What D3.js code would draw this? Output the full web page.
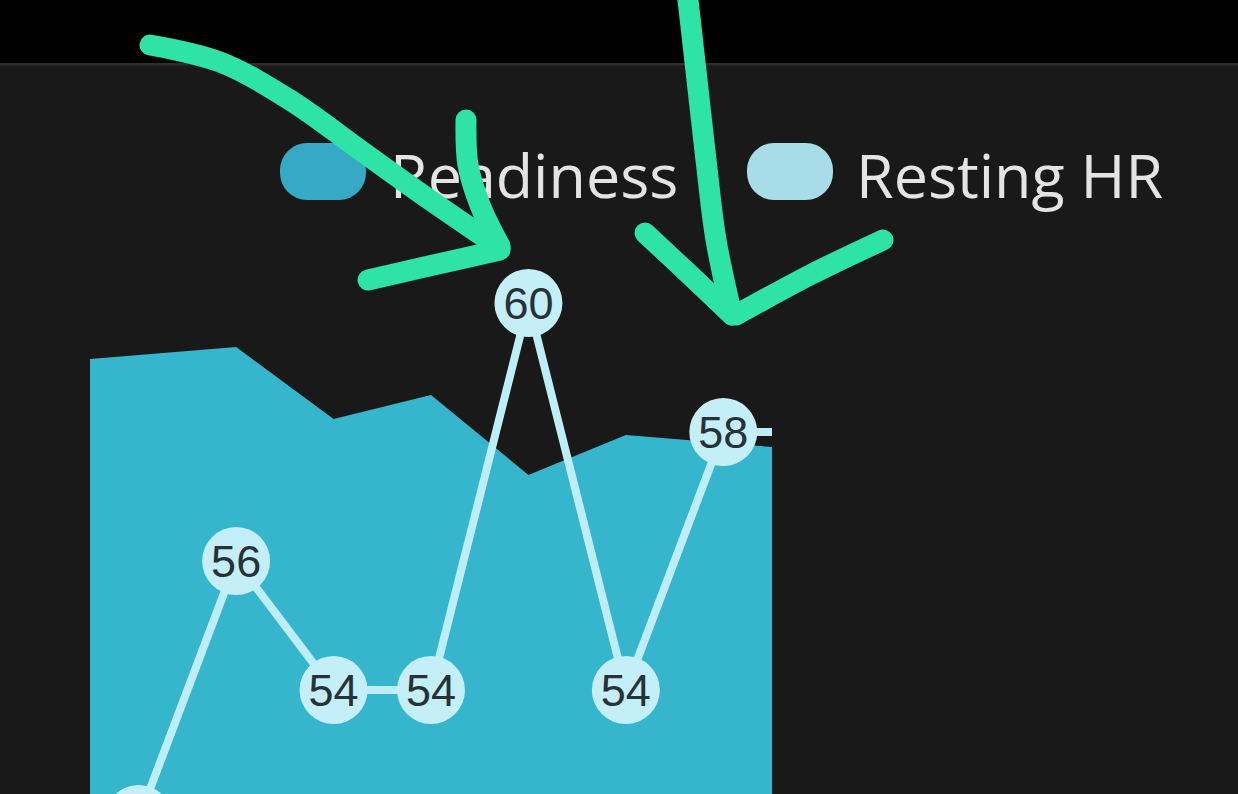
<!DOCTYPE html>
<html>
<head>
<meta charset="utf-8">
<script src="https://cdn.jsdelivr.net/npm/d3@7/dist/d3.min.js"></script>
<style>
  html, body { margin: 0; padding: 0; background: #191919; overflow: hidden; }
  svg { display: block; }
</style>
</head>
<body>
<svg id="chart" width="1238" height="794"></svg>
<script>
// ---- data ----
const days = ["D1", "D2", "D3", "D4", "D5", "D6", "D7"];
const readiness = [86, 87, 78, 81, 71, 76, 75];
const restingHR = [52, 56, 54, 54, 60, 54, 58];
const seriesNames = ["Readiness", "Resting HR"];
const seriesColors = ["#35a9c6", "#a8dde8"];

const W = 1238, H = 794;
const svg = d3.select("#chart");

// background bands
svg.append("rect").attr("x", 0).attr("y", 0).attr("width", W).attr("height", H).attr("fill", "#191919");
svg.append("rect").attr("x", 0).attr("y", 0).attr("width", W).attr("height", 63).attr("fill", "#000");
svg.append("rect").attr("x", 0).attr("y", 63).attr("width", W).attr("height", 2.5).attr("fill", "#2e2e2e");

const plot = { left: 90, right: 772, top: 240, bottom: 900 };

const x = d3.scalePoint().domain(days).range([plot.left, plot.right]).padding(0.5);
const yR = d3.scaleLinear().domain([0, 100]).range([1043, 243]);
const yHR = d3.scaleLinear().domain([52, 60]).range([819, 303]);

const clip = svg.append("defs").append("clipPath").attr("id", "plotclip");
clip.append("rect").attr("x", plot.left).attr("y", 0).attr("width", plot.right - plot.left).attr("height", H);

const g = svg.append("g").attr("clip-path", "url(#plotclip)");

// readiness area, extended linearly to the plot edges
const rPts = days.map((d, i) => [x(d), yR(readiness[i])]);
const n = rPts.length;
function extend(p0, p1, xe) {
  const s = (p1[1] - p0[1]) / (p1[0] - p0[0]);
  return [xe, p0[1] + s * (xe - p0[0])];
}
const areaPts = [extend(rPts[0], rPts[1], plot.left), ...rPts, extend(rPts[n - 2], rPts[n - 1], plot.right)];
const area = d3.area().x(d => d[0]).y0(plot.bottom).y1(d => d[1]);
g.append("path").datum(areaPts).attr("d", area).attr("fill", "#36b6cc");

// resting HR line, extended horizontally to the plot edges
const hPts = days.map((d, i) => [x(d), yHR(restingHR[i])]);
const linePts = [[plot.left, hPts[0][1]], ...hPts, [plot.right, hPts[n - 1][1]]];
g.append("path").datum(linePts)
  .attr("d", d3.line())
  .attr("fill", "none")
  .attr("stroke", "#bdeef8")
  .attr("stroke-width", 8);

const pts = g.selectAll("g.pt").data(days).join("g").attr("class", "pt")
  .attr("transform", (d, i) => `translate(${x(d)},${yHR(restingHR[i])})`);
pts.append("circle").attr("r", 34).attr("fill", "#c4eff8");
// labels only where the point's centre is inside the view (the first one sits below the frame)
pts.filter((d, i) => yHR(restingHR[i]) < H).append("text")
  .attr("text-anchor", "middle")
  .attr("dy", "0.36em")
  .attr("font-family", "'Liberation Sans', Arial, sans-serif")
  .attr("font-size", 45)
  .attr("fill", "#263238")
  .text(d => restingHR[days.indexOf(d)]);

// legend
const legend = [
  { name: seriesNames[0], color: seriesColors[0], px: 280, tx: 390 },
  { name: seriesNames[1], color: seriesColors[1], px: 747, tx: 856 }
];
const lg = svg.selectAll("g.lg").data(legend).join("g").attr("class", "lg");
lg.append("rect").attr("x", d => d.px).attr("y", 143).attr("width", 86).attr("height", 57)
  .attr("rx", 27).attr("fill", d => d.color);
lg.append("text").attr("x", d => d.tx).attr("y", 198)
  .attr("font-family", "'Open Sans', 'Noto Sans', sans-serif")
  .attr("font-size", 61)
  .attr("fill", "#e4e4e4")
  .text(d => d.name);

// hand-drawn annotation arrows
const ann = svg.append("g").attr("fill", "none").attr("stroke", "#2ee3a6")
  .attr("stroke-width", 21).attr("stroke-linecap", "round").attr("stroke-linejoin", "round");
const curve = d3.line().curve(d3.curveCatmullRom);
const strokes = [
  [[150, 45], [220, 62], [290, 100], [360, 150], [430, 200], [500, 248]],
  [[368, 280], [420, 268], [500, 250]],
  [[466, 120], [468, 165], [480, 205], [500, 246]],
  [[688, 0], [697, 80], [706, 160], [716, 240], [732, 315]],
  [[645, 233], [690, 275], [732, 315]],
  [[883, 240], [810, 275], [736, 315]]
];
strokes.forEach(s => ann.append("path").attr("d", curve(s)));
</script>
</body>
</html>
